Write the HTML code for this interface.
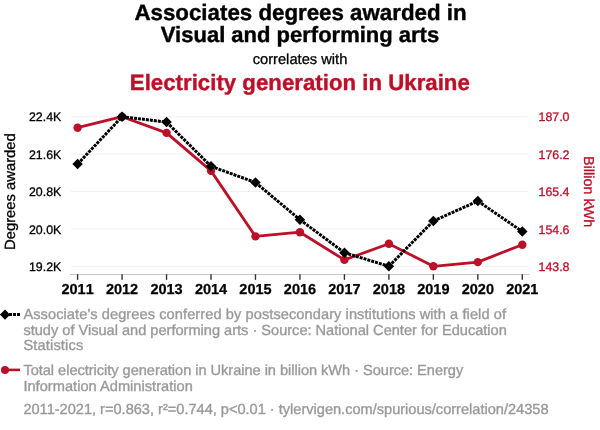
<!DOCTYPE html>
<html><head><meta charset="utf-8"><style>
html,body{margin:0;padding:0;background:#fff;}
body{width:600px;height:430px;overflow:hidden;position:relative;font-family:"Liberation Sans",Arial,sans-serif;}
svg{position:absolute;left:0;top:0;will-change:transform;}
text{font-family:"Liberation Sans",Arial,sans-serif;text-rendering:geometricPrecision;}
.t1{font-size:22.3px;font-weight:700;fill:#000;stroke:#000;stroke-width:0.4px;}
.cw{font-size:14.7px;fill:#000;stroke:#000;stroke-width:0.3px;}
.t2{font-size:22.2px;font-weight:700;fill:#bc1029;stroke:#bc1029;stroke-width:0.4px;}
.tl{font-size:12.4px;fill:#000;stroke:#000;stroke-width:0.3px;}
.tr{font-size:12.4px;fill:#bc1029;stroke:#bc1029;stroke-width:0.3px;}
.xl{font-size:14.5px;font-weight:700;font-kerning:none;fill:#000;stroke:#000;stroke-width:0.25px;}
.at{font-size:14.8px;stroke:#000;stroke-width:0.3px;}
.lg{font-size:14.6px;fill:#999;stroke:#999;stroke-width:0.35px;}
</style></head><body>
<svg width="600" height="430" viewBox="0 0 600 430">
<text x="300.5" y="20" text-anchor="middle" class="t1">Associates degrees awarded in</text>
<text x="300" y="42" text-anchor="middle" class="t1" style="font-size:22px">Visual and performing arts</text>
<text x="300" y="64" text-anchor="middle" class="cw">correlates with</text>
<text x="299.8" y="89.5" text-anchor="middle" class="t2" textLength="340" lengthAdjust="spacing">Electricity generation in Ukraine</text>
<line x1="71" x2="528" y1="116.7" y2="116.7" stroke="#f0f0f0" stroke-width="1"/>
<line x1="71" x2="528" y1="154.1" y2="154.1" stroke="#f0f0f0" stroke-width="1"/>
<line x1="71" x2="528" y1="191.5" y2="191.5" stroke="#f0f0f0" stroke-width="1"/>
<line x1="71" x2="528" y1="228.9" y2="228.9" stroke="#f0f0f0" stroke-width="1"/>
<line x1="71" x2="528" y1="266.3" y2="266.3" stroke="#f0f0f0" stroke-width="1"/>
<line x1="70" x2="529.5" y1="274.5" y2="274.5" stroke="#c8c8c8" stroke-width="1"/>
<line x1="77.6" x2="77.6" y1="274.7" y2="279.3" stroke="#333" stroke-width="1.4" stroke-linecap="round"/>
<line x1="122.07" x2="122.07" y1="274.7" y2="279.3" stroke="#333" stroke-width="1.4" stroke-linecap="round"/>
<line x1="166.54" x2="166.54" y1="274.7" y2="279.3" stroke="#333" stroke-width="1.4" stroke-linecap="round"/>
<line x1="211.01" x2="211.01" y1="274.7" y2="279.3" stroke="#333" stroke-width="1.4" stroke-linecap="round"/>
<line x1="255.48" x2="255.48" y1="274.7" y2="279.3" stroke="#333" stroke-width="1.4" stroke-linecap="round"/>
<line x1="299.95" x2="299.95" y1="274.7" y2="279.3" stroke="#333" stroke-width="1.4" stroke-linecap="round"/>
<line x1="344.41999999999996" x2="344.41999999999996" y1="274.7" y2="279.3" stroke="#333" stroke-width="1.4" stroke-linecap="round"/>
<line x1="388.89" x2="388.89" y1="274.7" y2="279.3" stroke="#333" stroke-width="1.4" stroke-linecap="round"/>
<line x1="433.36" x2="433.36" y1="274.7" y2="279.3" stroke="#333" stroke-width="1.4" stroke-linecap="round"/>
<line x1="477.83000000000004" x2="477.83000000000004" y1="274.7" y2="279.3" stroke="#333" stroke-width="1.4" stroke-linecap="round"/>
<line x1="522.3" x2="522.3" y1="274.7" y2="279.3" stroke="#333" stroke-width="1.4" stroke-linecap="round"/>
<text x="61.3" y="121" text-anchor="end" class="tl">22.4K</text>
<text x="61.3" y="159" text-anchor="end" class="tl">21.6K</text>
<text x="61.3" y="196" text-anchor="end" class="tl">20.8K</text>
<text x="61.3" y="234" text-anchor="end" class="tl">20.0K</text>
<text x="61.3" y="271" text-anchor="end" class="tl">19.2K</text>
<text x="538.5" y="121" class="tr">187.0</text>
<text x="538.5" y="159" class="tr">176.2</text>
<text x="538.5" y="196" class="tr">165.4</text>
<text x="538.5" y="234" class="tr">154.6</text>
<text x="538.5" y="271" class="tr">143.8</text>
<text x="77.6" y="294.3" text-anchor="middle" class="xl">2011</text>
<text x="122.07" y="294.3" text-anchor="middle" class="xl">2012</text>
<text x="166.54" y="294.3" text-anchor="middle" class="xl">2013</text>
<text x="211.01" y="294.3" text-anchor="middle" class="xl">2014</text>
<text x="255.48" y="294.3" text-anchor="middle" class="xl">2015</text>
<text x="299.95" y="294.3" text-anchor="middle" class="xl">2016</text>
<text x="344.41999999999996" y="294.3" text-anchor="middle" class="xl">2017</text>
<text x="388.89" y="294.3" text-anchor="middle" class="xl">2018</text>
<text x="433.36" y="294.3" text-anchor="middle" class="xl">2019</text>
<text x="477.83000000000004" y="294.3" text-anchor="middle" class="xl">2020</text>
<text x="522.3" y="294.3" text-anchor="middle" class="xl">2021</text>
<polyline points="77.60,127.70 122.07,116.70 166.54,132.90 211.01,170.90 255.48,236.40 299.95,232.20 344.42,259.90 388.89,243.70 433.36,266.30 477.83,262.10 522.30,244.70" fill="none" stroke="#bc1029" stroke-width="2.8" stroke-linejoin="round"/>
<circle cx="77.60" cy="127.7" r="4.2" fill="#bc1029"/>
<circle cx="122.07" cy="116.7" r="4.2" fill="#bc1029"/>
<circle cx="166.54" cy="132.9" r="4.2" fill="#bc1029"/>
<circle cx="211.01" cy="170.9" r="4.2" fill="#bc1029"/>
<circle cx="255.48" cy="236.4" r="4.2" fill="#bc1029"/>
<circle cx="299.95" cy="232.2" r="4.2" fill="#bc1029"/>
<circle cx="344.42" cy="259.9" r="4.2" fill="#bc1029"/>
<circle cx="388.89" cy="243.7" r="4.2" fill="#bc1029"/>
<circle cx="433.36" cy="266.3" r="4.2" fill="#bc1029"/>
<circle cx="477.83" cy="262.1" r="4.2" fill="#bc1029"/>
<circle cx="522.30" cy="244.7" r="4.2" fill="#bc1029"/>
<line x1="77.60" y1="164.1" x2="122.07" y2="116.7" stroke="#000" stroke-width="3" stroke-dasharray="3,1"/>
<line x1="122.07" y1="116.7" x2="166.54" y2="122.1" stroke="#000" stroke-width="3" stroke-dasharray="3,1"/>
<line x1="166.54" y1="122.1" x2="211.01" y2="166.3" stroke="#000" stroke-width="3" stroke-dasharray="3,1"/>
<line x1="211.01" y1="166.3" x2="255.48" y2="182.5" stroke="#000" stroke-width="3" stroke-dasharray="3,1"/>
<line x1="255.48" y1="182.5" x2="299.95" y2="219.7" stroke="#000" stroke-width="3" stroke-dasharray="3,1"/>
<line x1="299.95" y1="219.7" x2="344.42" y2="252.7" stroke="#000" stroke-width="3" stroke-dasharray="3,1"/>
<line x1="344.42" y1="252.7" x2="388.89" y2="266.3" stroke="#000" stroke-width="3" stroke-dasharray="3,1"/>
<line x1="388.89" y1="266.3" x2="433.36" y2="221.0" stroke="#000" stroke-width="3" stroke-dasharray="3,1"/>
<line x1="433.36" y1="221.0" x2="477.83" y2="201.1" stroke="#000" stroke-width="3" stroke-dasharray="3,1"/>
<line x1="477.83" y1="201.1" x2="522.30" y2="231.5" stroke="#000" stroke-width="3" stroke-dasharray="3,1"/>
<rect x="73.90" y="160.40" width="7.4" height="7.4" transform="rotate(45 77.60 164.1)" fill="#000"/>
<rect x="118.37" y="113.00" width="7.4" height="7.4" transform="rotate(45 122.07 116.7)" fill="#000"/>
<rect x="162.84" y="118.40" width="7.4" height="7.4" transform="rotate(45 166.54 122.1)" fill="#000"/>
<rect x="207.31" y="162.60" width="7.4" height="7.4" transform="rotate(45 211.01 166.3)" fill="#000"/>
<rect x="251.78" y="178.80" width="7.4" height="7.4" transform="rotate(45 255.48 182.5)" fill="#000"/>
<rect x="296.25" y="216.00" width="7.4" height="7.4" transform="rotate(45 299.95 219.7)" fill="#000"/>
<rect x="340.72" y="249.00" width="7.4" height="7.4" transform="rotate(45 344.42 252.7)" fill="#000"/>
<rect x="385.19" y="262.60" width="7.4" height="7.4" transform="rotate(45 388.89 266.3)" fill="#000"/>
<rect x="429.66" y="217.30" width="7.4" height="7.4" transform="rotate(45 433.36 221.0)" fill="#000"/>
<rect x="474.13" y="197.40" width="7.4" height="7.4" transform="rotate(45 477.83 201.1)" fill="#000"/>
<rect x="518.60" y="227.80" width="7.4" height="7.4" transform="rotate(45 522.30 231.5)" fill="#000"/>
<text transform="translate(15.1,191.6) rotate(-90)" text-anchor="middle" class="at">Degrees awarded</text>
<text transform="translate(584,191.6) rotate(90)" text-anchor="middle" class="at" style="font-size:14.4px;fill:#bc1029;stroke:#bc1029">Billion kWh</text>
<line x1="5" x2="20" y1="314.6" y2="314.6" stroke="#000" stroke-width="3" stroke-dasharray="3,1"/>
<rect x="1.4" y="311.1" width="7.2" height="7.2" transform="rotate(45 5 314.7)" fill="#000"/>
<line x1="5" x2="20" y1="369.9" y2="369.9" stroke="#bc1029" stroke-width="2.6"/>
<circle cx="5" cy="369.9" r="4" fill="#bc1029"/>
<text x="23.4" y="318.8" class="lg" textLength="482.6" lengthAdjust="spacing">Associate's degrees conferred by postsecondary institutions with a field of</text>
<text x="23.4" y="334.5" class="lg" textLength="483.4" lengthAdjust="spacing">study of Visual and performing arts · Source: National Center for Education</text>
<text x="23.4" y="350.4" class="lg" textLength="59.8" lengthAdjust="spacing">Statistics</text>
<text x="23.4" y="374.6" class="lg" textLength="439.8" lengthAdjust="spacing">Total electricity generation in Ukraine in billion kWh · Source: Energy</text>
<text x="23.4" y="390.8" class="lg" textLength="169.4" lengthAdjust="spacing">Information Administration</text>
<text x="23.4" y="413.6" class="lg" textLength="525.1" lengthAdjust="spacing">2011-2021, r=0.863, r²=0.744, p&lt;0.01 · tylervigen.com/spurious/correlation/24358</text>
</svg>
</body></html>
